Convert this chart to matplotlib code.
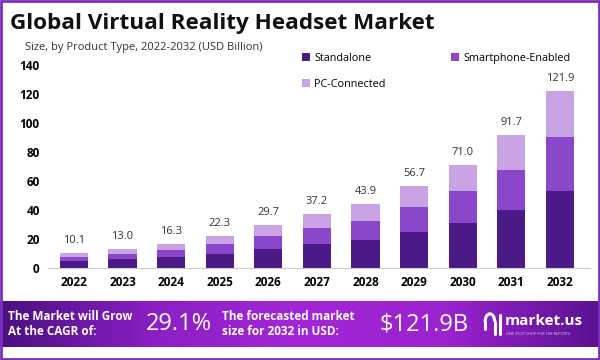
import matplotlib
matplotlib.use("Agg")
import matplotlib.pyplot as plt
from matplotlib.patches import Rectangle, Arc
from matplotlib.colors import LinearSegmentedColormap
import numpy as np

plt.rcParams['font.family'] = ['Open Sans', 'DejaVu Sans']

years = ['2022', '2023', '2024', '2025', '2026', '2027', '2028', '2029', '2030', '2031', '2032']
standalone = [4.8, 5.9, 7.3, 9.9, 13.1, 16.6, 19.5, 25.0, 31.0, 40.2, 53.3]
smartphone = [2.8, 4.0, 4.8, 6.7, 9.2, 11.0, 13.1, 17.3, 21.8, 27.6, 37.0]
pc_connected = [2.5, 3.1, 4.2, 5.7, 7.4, 9.6, 11.3, 14.4, 18.2, 23.9, 31.6]
totals = [10.1, 13.0, 16.3, 22.3, 29.7, 37.2, 43.9, 56.7, 71.0, 91.7, 121.9]

c_stand = '#4c1a87'
c_smart = '#8a47c9'
c_pc = '#c9a3e3'

fig = plt.figure(figsize=(6, 3.6), dpi=100)
ax = fig.add_axes([0.08, 0.2556, 0.903, 0.564])

x = np.arange(len(years))
w = 0.58
s = np.array(standalone)
m = np.array(smartphone)
p = np.array(pc_connected)
b1 = ax.bar(x, s, w, color=c_stand, label='Standalone')
b2 = ax.bar(x, m, w, bottom=s, color=c_smart, label='Smartphone-Enabled')
b3 = ax.bar(x, p, w, bottom=s + m, color=c_pc, label='PC-Connected')

for xi, t in zip(x, totals):
    ax.annotate(f'{t:.1f}', (xi, t), xytext=(0, 5), textcoords='offset points',
                ha='center', va='bottom', fontsize=8, color='#333333')

ax.set_xlim(-0.535, 10.617)
ax.set_ylim(0, 140)
ax.set_yticks(range(0, 141, 20))
ax.set_xticks(x)
ax.set_xticklabels(years)
for lab in ax.get_xticklabels():
    lab.set_fontweight('bold')
    lab.set_fontsize(8.5)
for lab in ax.get_yticklabels():
    lab.set_fontweight('bold')
    lab.set_fontsize(8.5)
ax.tick_params(length=0, pad=6)
for sp in ['top', 'right', 'left']:
    ax.spines[sp].set_visible(False)
ax.spines['bottom'].set_color('#cccccc')

ax.legend([b1, b3, b2], ['Standalone', 'PC-Connected', 'Smartphone-Enabled'],
          ncol=2, loc='upper left', bbox_to_anchor=(0.487, 0.88), bbox_transform=fig.transFigure,
          frameon=False, fontsize=7.8, handlelength=0.75, handleheight=0.75,
          handletextpad=0.4, columnspacing=6.0, labelspacing=1.35)

fig.text(0.017, 0.935, 'Global Virtual Reality Headset Market', fontsize=16.2,
         fontweight='bold', color='#111111', va='center')
fig.text(0.042, 0.868, 'Size, by Product Type, 2022-2032 (USD Billion)', fontsize=8,
         color='#333333', va='center')

# bottom banner
bax = fig.add_axes([0, 0.036, 1, 0.128])
cmap = LinearSegmentedColormap.from_list('ban', ['#4a1080', '#8a1fc4', '#a326d6', '#9a22cf', '#5a1290'])
grad = np.linspace(0, 1, 256).reshape(1, -1)
bax.imshow(grad, aspect='auto', cmap=cmap, extent=[0, 1, 0, 1])
bax.set_xlim(0, 1)
bax.set_ylim(0, 1)
bax.set_axis_off()

# logo mark
bax.add_patch(Arc((0.8165, 0.55), 0.016, 0.34, theta1=0, theta2=180, color='white', lw=2.2))
bax.plot([0.8085, 0.8085], [0.55, 0.40], color='white', lw=2.2, solid_capstyle='round')
bax.plot([0.8245, 0.8245], [0.55, 0.28], color='white', lw=2.2, solid_capstyle='round')
bax.plot([0.8325, 0.8325], [0.70, 0.28], color='white', lw=2.2, solid_capstyle='round')

fig.text(0.013, 0.1, 'The Market will Grow\nAt the CAGR of:', fontsize=8.5, fontweight='bold',
         color='white', va='center', linespacing=1.15)
fig.text(0.243, 0.1, '29.1%', fontsize=17, color='white', va='center')
fig.text(0.37, 0.1, 'The forecasted market\nsize for 2032 in USD:', fontsize=8.5, fontweight='bold',
         color='white', va='center', linespacing=1.15)
fig.text(0.632, 0.1, '$121.9B', fontsize=17, color='white', va='center')
fig.text(0.842, 0.108, 'market.us', fontsize=11, fontweight='bold', color='white', va='center')
fig.text(0.844, 0.073, 'ONE STOP SHOP FOR THE REPORTS', fontsize=2.8, color='#e0c8f0', va='center')

fig.patches.append(Rectangle((0.002, 0.003), 0.996, 0.994, transform=fig.transFigure,
                             fill=False, edgecolor='#7b2fbf', lw=2))

fig.savefig('out.png', dpi=100)
